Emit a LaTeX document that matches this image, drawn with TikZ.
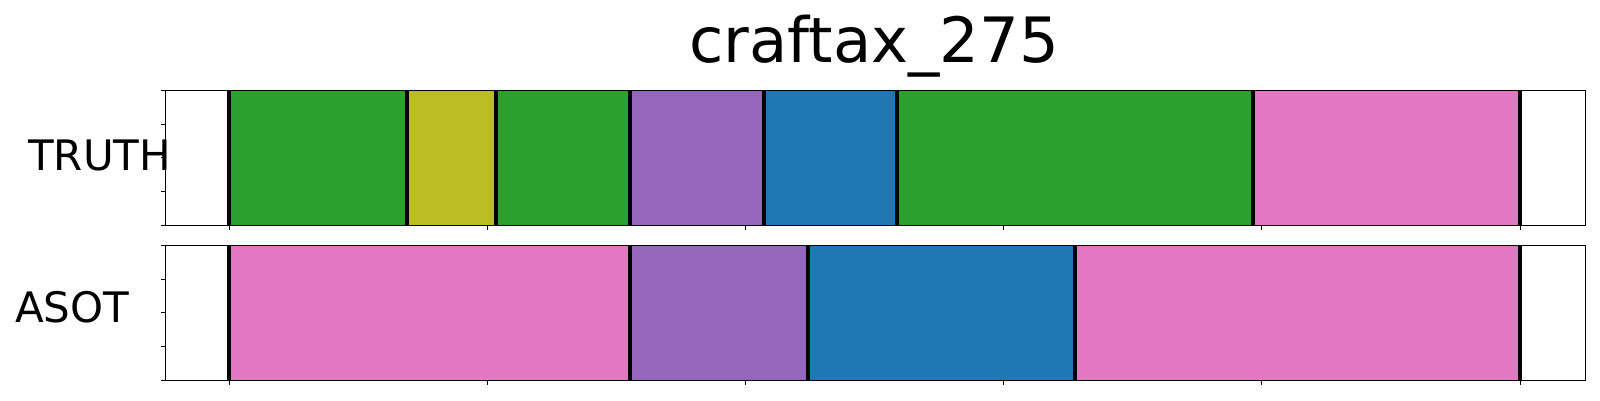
\documentclass[tikz,border=0pt]{standalone}
\usepackage{fontspec}
\setmainfont{DejaVu Sans}
\definecolor{tgreen}{HTML}{2CA02C}
\definecolor{tolive}{HTML}{BCBD22}
\definecolor{tpurple}{HTML}{9467BD}
\definecolor{tblue}{HTML}{1F77B4}
\definecolor{tpink}{HTML}{E377C2}
\begin{document}
\begin{tikzpicture}[x=1pt,y=-1pt,
  spine/.style={draw=black,line width=1.1pt},
  bound/.style={draw=black,line width=4pt},
  tickln/.style={draw=black,line width=1pt},
  lab/.style={inner sep=0pt,anchor=base west,font=\fontsize{42}{42}\selectfont}]
\useasboundingbox[fill=white] (0,0) rectangle (1600,400);
% title
\node[inner sep=0pt,anchor=base,font=\fontsize{62.5}{62.5}\selectfont] (title) at (874,62) {craftax\_275};
% labels
\node[lab] (truth) at (28,170) {TRUTH};
\node[lab] (asot) at (15,322.7) {ASOT};
% top panel segments
\def\ta{90.3}\def\tb{225.3}
\fill[tgreen] (229,\ta) rectangle (406.8,\tb);
\fill[tolive] (406.8,\ta) rectangle (496,\tb);
\fill[tgreen] (496,\ta) rectangle (630,\tb);
\fill[tpurple] (630,\ta) rectangle (764,\tb);
\fill[tblue] (764,\ta) rectangle (896.7,\tb);
\fill[tgreen] (896.7,\ta) rectangle (1252.7,\tb);
\fill[tpink] (1252.7,\ta) rectangle (1520,\tb);
\foreach \x in {229,406.8,496,630,764,896.7,1252.7,1520}
  \draw[bound] (\x,\ta) -- (\x,\tb);
% bottom panel segments
\def\ba{245.3}\def\bb{380.3}
\fill[tpink] (229,\ba) rectangle (630,\bb);
\fill[tpurple] (630,\ba) rectangle (808,\bb);
\fill[tblue] (808,\ba) rectangle (1074.7,\bb);
\fill[tpink] (1074.7,\ba) rectangle (1520,\bb);
\foreach \x in {229,630,808,1074.7,1520}
  \draw[bound] (\x,\ba) -- (\x,\bb);
% frames
\draw[spine] (165.7,\ta) rectangle (1585.7,\tb);
\draw[spine] (165.7,\ba) rectangle (1585.7,\bb);
% ticks
\foreach \i in {0,1,2,3,4}{
  \draw[tickln] (165.7,{\ta+\i*33.75}) -- (160.7,{\ta+\i*33.75});
  \draw[tickln] (165.7,{\ba+\i*33.75}) -- (160.7,{\ba+\i*33.75});
}
\foreach \i in {0,1,2,3,4,5}{
  \draw[tickln] ({229.3+\i*258.14},\tb) -- ({229.3+\i*258.14},{\tb+5});
  \draw[tickln] ({229.3+\i*258.14},\bb) -- ({229.3+\i*258.14},{\bb+5});
}
\end{tikzpicture}
\end{document}
